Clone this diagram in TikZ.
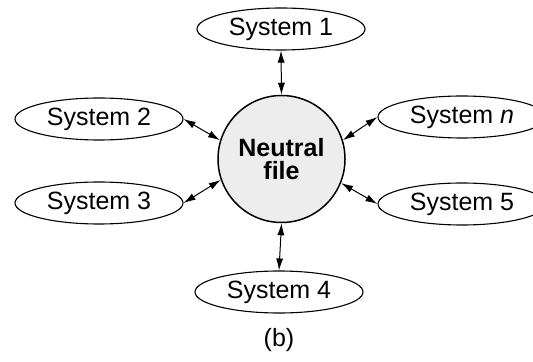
\documentclass[tikz,border=0pt]{standalone}
\usepackage{fontspec}
\setmainfont{Liberation Sans}
\usetikzlibrary{shapes.geometric,arrows.meta}
\begin{document}
\begin{tikzpicture}[x=0.5pt,y=0.5pt]
\tikzstyle{every node}+=[inner sep=0pt,font=\fontsize{12.5}{12.5}\selectfont]
\tikzstyle{sysnode}=[draw,ellipse,line width=0.55pt,minimum width=84pt,minimum height=21pt]
\tikzstyle{link}=[line width=0.5pt,{Latex[length=6pt,width=3.6pt]}-{Latex[length=6pt,width=3.6pt]}]
\useasboundingbox (0,0) rectangle (533,-362);
\node [draw,circle,fill=black!7,line width=0.75pt,minimum size=63.5pt,align=center,
  font=\fontsize{12.5}{11.5}\selectfont\bfseries] (nf) at (281.5,-159) {Neutral\\file};
\node [sysnode] (s1) at (281,-29) {System 1};
\node [sysnode] (s2) at (99,-119) {System 2};
\node [sysnode] (s3) at (99,-203) {System 3};
\node [sysnode] (s4) at (279,-292) {System 4};
\node [sysnode] (sn) at (462,-117) {System \textit{n}};
\node [sysnode] (s5) at (462,-204) {System 5};
\node (cap) at (279,-340) {(b)};
\draw [link] (s1.south) -- (nf.north);
\draw [link] (s4.north) -- (nf.south);
\draw [link] (s2.east) -- (nf.163);
\draw [link] (s3.east) -- (nf.199);
\draw [link] (sn.west) -- (nf.17);
\draw [link] (s5.west) -- (nf.-22);
\end{tikzpicture}
\end{document}
